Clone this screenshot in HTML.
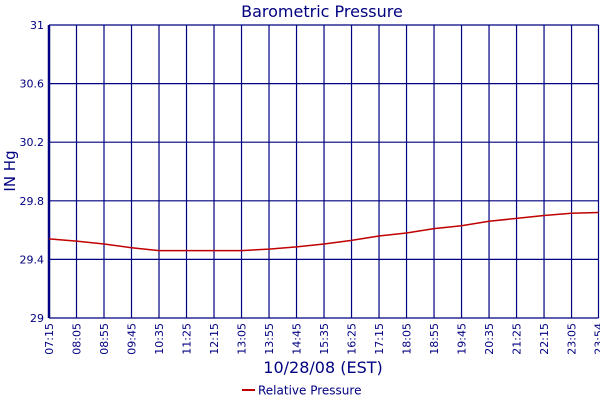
<!DOCTYPE html>
<html><head><meta charset="utf-8"><style>
body{margin:0;background:#fff;}
svg{display:block;font-family:"DejaVu Sans","Liberation Sans",sans-serif;}
</style></head><body>
<svg id="chart" width="600" height="400" viewBox="0 0 600 400">
<text x="322" y="17" text-anchor="middle" font-size="16" fill="#000080">Barometric Pressure</text>
<g id="grid"></g>
<g id="series"></g>
<text transform="translate(15,171) rotate(-90)" text-anchor="middle" font-size="15" fill="#000080">IN Hg</text>
<text x="323" y="373" text-anchor="middle" font-size="16" fill="#000080">10/28/08 (EST)</text>
<g>
<line x1="242" y1="390" x2="255" y2="390" stroke="#c00000" stroke-width="2"/>
<text x="258" y="394.5" font-size="12" fill="#000080">Relative Pressure</text>
</g>
</svg>
<script>
const tickLabels=["07:15","08:05","08:55","09:45","10:35","11:25","12:15","13:05","13:55","14:45","15:35","16:25","17:15","18:05","18:55","19:45","20:35","21:25","22:15","23:05","23:54"];
const tickMinutes=[435,485,535,585,635,685,735,785,835,885,935,985,1035,1085,1135,1185,1235,1285,1335,1385,1434];
const yTicks=[29,29.4,29.8,30.2,30.6,31];
const pressure=[29.54,29.525,29.505,29.48,29.46,29.46,29.46,29.46,29.47,29.485,29.505,29.53,29.56,29.58,29.61,29.63,29.66,29.68,29.70,29.715,29.72];
const L=49,R=598.5,T=25,B=318,xMin=435,xMax=1434,yMin=29,yMax=31;
const xs=m=>L+(m-xMin)/(xMax-xMin)*(R-L);
const ys=v=>B-(v-yMin)/(yMax-yMin)*(B-T);
const NS="http://www.w3.org/2000/svg";
const grid=document.getElementById('grid');
function mk(tag,attrs,parent){const e=document.createElementNS(NS,tag);for(const k in attrs)e.setAttribute(k,attrs[k]);parent.appendChild(e);return e;}
yTicks.forEach(v=>{
  const y=ys(v);
  const ln=mk('line',{x1:L,x2:R,y1:y,y2:y,stroke:'#000080','stroke-width':1.2},grid);
  
  
  const t=mk('text',{x:44,y:y+4,'text-anchor':'end','font-size':11,fill:'#000080'},grid);
  t.textContent=String(v);
  
  
});
tickMinutes.forEach((m,i)=>{
  const x=xs(m);
  const ln=mk('line',{x1:x,x2:x,y1:T,y2:B,stroke:'#000080','stroke-width':1.2},grid);
  
  
  const t=mk('text',{transform:`translate(${x+4},${B+5}) rotate(-90)`,'text-anchor':'end','font-size':11,fill:'#000080'},grid);
  t.textContent=tickLabels[i];
  
  
});
const ax=mk('line',{x1:L,x2:L,y1:T,y2:B,stroke:'#000080','stroke-width':2.5},grid);


const pts=pressure.map((v,i)=>xs(tickMinutes[i]).toFixed(1)+','+ys(v).toFixed(1)).join(' ');
const pl=mk('polyline',{points:pts,fill:'none',stroke:'#c00000','stroke-width':1.5},document.getElementById('series'));


</script>
</body></html>
